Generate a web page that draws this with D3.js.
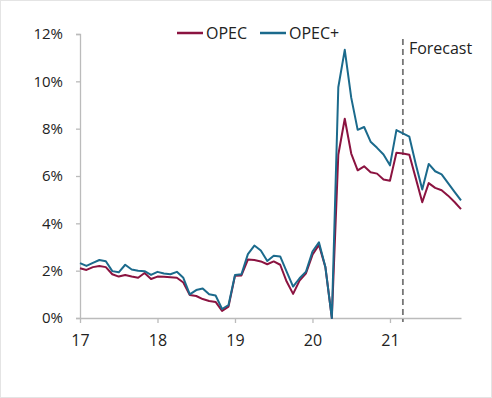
<!DOCTYPE html>
<html><head><meta charset="utf-8">
<script src="https://cdn.jsdelivr.net/npm/d3@7"></script>
<style>body{margin:0;background:#fff}svg{display:block}text{font-family:"Open Sans",sans-serif;fill:#222}</style>
</head><body><svg id="c" width="492" height="398"></svg>
<script>
const seriesNames = ["OPEC", "OPEC+"];
const seriesColors = ["#8B1340", "#1B6A8C"];
const opec = [2.1,2.03,2.15,2.2,2.15,1.85,1.75,1.82,1.75,1.7,1.9,1.65,
  1.75,1.74,1.72,1.7,1.5,0.97,0.93,0.8,0.72,0.68,0.3,0.48,
  1.78,1.8,2.47,2.45,2.39,2.27,2.39,2.25,1.54,1.02,1.58,1.89,
  2.67,3.09,2.15,0.0,6.9,8.42,6.95,6.24,6.41,6.16,6.1,5.85,
  5.8,6.98,6.95,6.9,5.9,4.89,5.7,5.5,5.4,5.17,4.9,4.6];
const opecPlus = [2.32,2.2,2.33,2.45,2.4,1.98,1.93,2.25,2.05,2.0,1.98,1.82,
  1.95,1.88,1.85,1.95,1.7,1.0,1.18,1.25,1.0,0.95,0.38,0.55,
  1.82,1.85,2.7,3.06,2.85,2.41,2.63,2.6,1.96,1.33,1.68,1.96,
  2.81,3.2,2.15,0.0,9.75,11.33,9.31,7.95,8.07,7.45,7.19,6.91,
  6.45,7.94,7.8,7.66,6.5,5.43,6.51,6.2,6.07,5.7,5.33,4.97];
const xTickLabels = ["17","18","19","20","21"];
const yTicks = [0,2,4,6,8,10,12];
const forecastMonth = 50;
const forecastLabel = "Forecast";

const svg = d3.select("#c");
svg.append("rect").attr("x",0.5).attr("y",0.5).attr("width",491).attr("height",397)
  .attr("fill","none").attr("stroke","#e4e4e4");

const m = {l:80, r:31, t:34, b:80};
const W = 492, H = 398;
const x = d3.scaleLinear().domain([0, opec.length-1]).range([m.l, W-m.r]);
const y = d3.scaleLinear().domain([0,12]).range([H-m.b, m.t]);

// y axis
const ya = svg.append("g").attr("transform",`translate(${m.l},0)`)
  .call(d3.axisLeft(y).tickValues(yTicks).tickSize(4).tickPadding(13).tickFormat(d=>d+"%"));
ya.select(".domain").attr("stroke","#bbb").attr("stroke-width",1.3);
ya.selectAll(".tick line").attr("stroke","#bbb").attr("stroke-width",1.3);
ya.selectAll(".tick text").attr("font-size",15).attr("fill","#222").attr("font-family","Open Sans");

// x axis
const xTickVals = xTickLabels.map((d,i)=>i*12);
const xa = svg.append("g").attr("transform",`translate(0,${H-m.b})`)
  .call(d3.axisBottom(x).tickValues(xTickVals).tickSize(5).tickPadding(12).tickSizeOuter(0)
    .tickFormat((d,i)=>xTickLabels[i]));
xa.select(".domain").attr("stroke","#bbb").attr("stroke-width",1.3);
xa.selectAll(".tick line").attr("stroke","#bbb").attr("stroke-width",1.3);
xa.selectAll(".tick text").attr("font-size",16).attr("fill","#222").attr("font-family","Open Sans");

// forecast line
svg.append("line").attr("x1",x(forecastMonth)).attr("x2",x(forecastMonth))
  .attr("y1",39).attr("y2",H-m.b+4).attr("stroke","#777").attr("stroke-width",1.8)
  .attr("stroke-dasharray","6,4");
svg.append("text").attr("x",x(forecastMonth)+6).attr("y",54).attr("font-size",16).text(forecastLabel);

// lines
const line = d3.line().x((d,i)=>x(i)).y(d=>y(d));
[opec, opecPlus].forEach((s,k)=>{
  svg.append("path").datum(s).attr("d",line).attr("fill","none")
    .attr("stroke",seriesColors[k]).attr("stroke-width",2).attr("stroke-linejoin","round");
});

// legend
const lx = [177, 260];
seriesNames.forEach((n,k)=>{
  svg.append("line").attr("x1",lx[k]).attr("x2",lx[k]+26).attr("y1",33).attr("y2",33)
    .attr("stroke",seriesColors[k]).attr("stroke-width",2.5);
  svg.append("text").attr("x",lx[k]+29).attr("y",38.5).attr("font-size",16).text(n);
});
</script></body></html>
